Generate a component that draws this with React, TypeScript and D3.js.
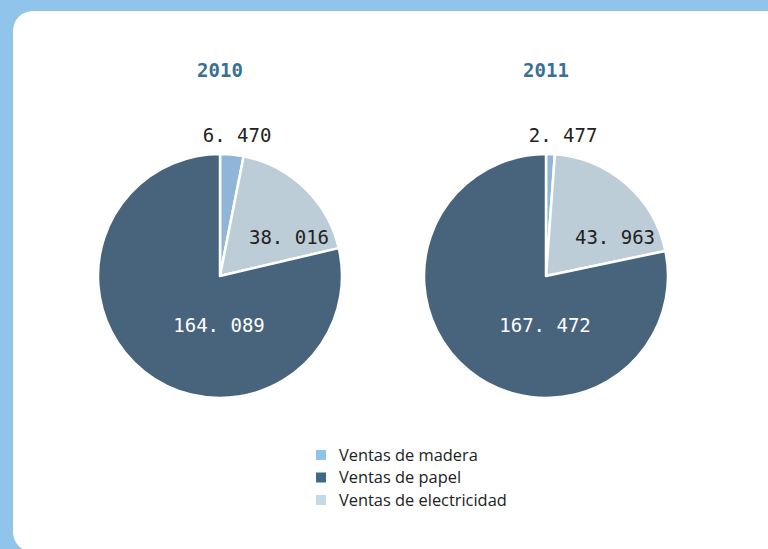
import React, { useEffect, useRef } from "react";
import * as d3 from "d3";

const categories = ["Ventas de madera", "Ventas de papel", "Ventas de electricidad"];
const years = ["2010", "2011"];
const madera = [6470, 2477];
const papel = [164089, 167472];
const electricidad = [38016, 43963];
const valueLabels = [
  ["6. 470", "164. 089", "38. 016"],
  ["2. 477", "167. 472", "43. 963"],
];

const W = 768;
const H = 549;
const pieColors = ["#8fb6d8", "#48647c", "#bdcdd7"];
const legendColors = ["#8fc3e8", "#3e6a8a", "#c3dae7"];
// label offsets from pie centre (madera, papel, electricidad)
const labelOffsets = [
  [17, -141],
  [-1, 49],
  [69, -39],
];
const labelFill = ["#222", "#fff", "#222"];

const App = () => {
  const svgRef = useRef(null);

  useEffect(() => {
    const svg = d3.select(svgRef.current);
    svg.selectAll("*").remove();

    svg.append("rect").attr("width", W).attr("height", H).attr("fill", "#90c4ea");
    // white card, runs off the right edge
    svg
      .append("rect")
      .attr("x", 13)
      .attr("y", 11)
      .attr("width", 775)
      .attr("height", 541)
      .attr("rx", 20)
      .attr("fill", "#fff");

    const radius = 122;
    const centers = d3.scaleOrdinal<string, number>().domain(years).range([220, 546]);
    const cy = 276;

    // order around the pie: madera, electricidad, papel
    const order = [0, 2, 1];
    const arc = d3.arc<any>().innerRadius(0).outerRadius(radius);

    years.forEach((year, yi) => {
      const cx = centers(year);
      const vals = [madera[yi], papel[yi], electricidad[yi]];
      const pie = d3
        .pie<number>()
        .sort(null)
        .value((i) => vals[i]);
      const g = svg.append("g").attr("transform", `translate(${cx},${cy})`);

      g.append("circle").attr("r", radius + 1).attr("fill", "#f3e6ec");

      g.selectAll("path")
        .data(pie(order))
        .join("path")
        .attr("d", arc)
        .attr("fill", (d) => pieColors[d.data])
        .attr("stroke", "#fff")
        .attr("stroke-width", 2.5)
        .attr("stroke-linejoin", "round");

      svg
        .append("text")
        .attr("x", cx)
        .attr("y", 77)
        .attr("text-anchor", "middle")
        .attr("font-family", "DejaVu Sans Mono")
        .attr("font-weight", "bold")
        .attr("font-size", 19)
        .attr("fill", "#3a6f96")
        .text(year);

      [0, 1, 2].forEach((k) => {
        g.append("text")
          .attr("x", labelOffsets[k][0])
          .attr("y", labelOffsets[k][1])
          .attr("dy", "0.36em")
          .attr("text-anchor", "middle")
          .attr("font-family", "DejaVu Sans Mono")
          .attr("font-size", 19)
          .attr("fill", labelFill[k])
          .text(valueLabels[yi][k]);
      });
    });

    const legend = svg.append("g").attr("transform", "translate(316,455)");
    categories.forEach((c, i) => {
      const row = legend.append("g").attr("transform", `translate(0,${i * 22.5})`);
      row
        .append("rect")
        .attr("x", 0)
        .attr("y", -5)
        .attr("width", 10)
        .attr("height", 10)
        .attr("fill", legendColors[i]);
      row
        .append("text")
        .attr("x", 23)
        .attr("dy", "0.35em")
        .attr("font-family", "Open Sans")
        .attr("font-size", 16.4)
        .attr("fill", "#222")
        .text(c);
    });
  }, []);

  return (
    <>
      <style>{`body{margin:0}`}</style>
      <svg ref={svgRef} width={W} height={H} style={{ display: "block" }}></svg>
    </>
  );
};

export default App;
